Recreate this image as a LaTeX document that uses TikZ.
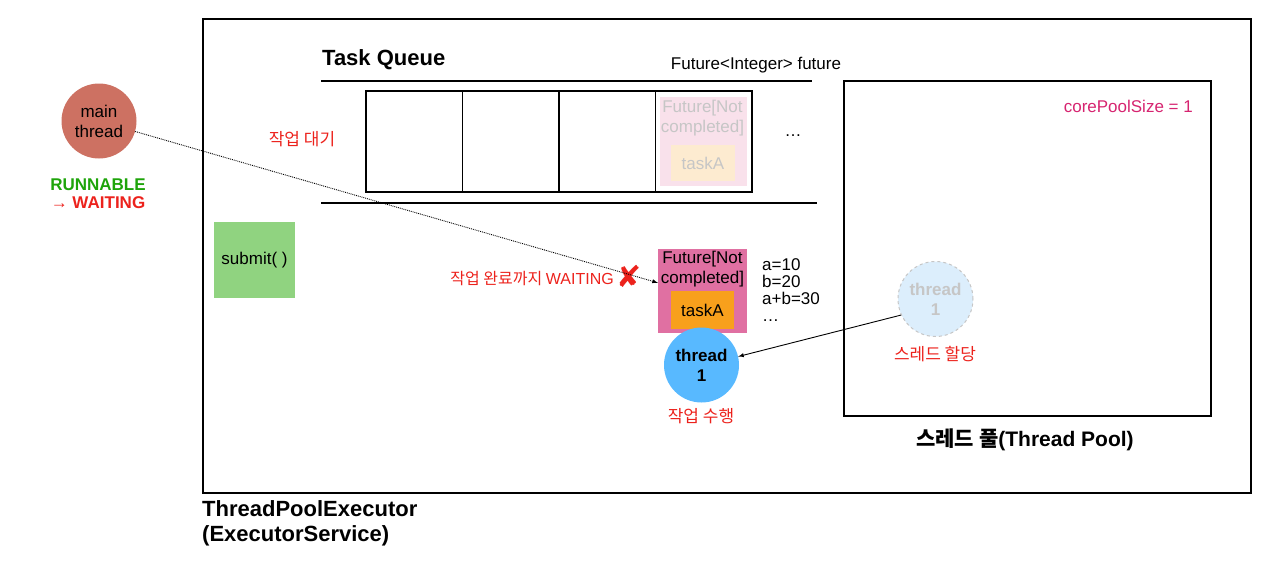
\documentclass[tikz,border=0pt]{standalone}
\usepackage{fontspec}
\usetikzlibrary{calc}
\setmainfont{Liberation Sans}
\newfontfamily\krfont{Noto Sans CJK KR}
\newfontfamily\symfont{DejaVu Sans}
\definecolor{warnRed}{RGB}{236,34,28}
\definecolor{runGreen}{RGB}{30,164,10}
\definecolor{poolMagenta}{RGB}{214,36,112}
\definecolor{mainSalmon}{RGB}{205,113,98}
\definecolor{submitGreen}{RGB}{144,211,128}
\definecolor{futurePink}{RGB}{224,112,162}
\definecolor{ghostPink}{RGB}{249,225,235}
\definecolor{taskOrange}{RGB}{248,160,28}
\definecolor{ghostOrange}{RGB}{253,235,208}
\definecolor{threadBlue}{RGB}{88,185,255}
\definecolor{ghostBlue}{RGB}{220,238,252}
\definecolor{ghostGray}{RGB}{198,198,198}

\begin{document}
\begin{tikzpicture}[
    x=1pt, y=-1pt,
    every node/.style={font=\fontsize{17}{20}\selectfont, inner sep=0pt},
    title label/.style={font=\fontsize{22}{25}\selectfont\bfseries},
    kr label/.style={font=\fontsize{17}{20}\selectfont\krfont, text=warnRed},
    frame box/.style={draw, line width=1.6pt, anchor=north west},
    queue cell/.style={draw, line width=1.7pt, minimum width=96.5pt, minimum height=101pt},
    queue rule/.style={line width=1.5pt},
    thread/.style={circle, minimum size=75pt, align=center, font=\fontsize{17}{20}\selectfont\bfseries},
    ghost/.style={text=ghostGray}
]
    \useasboundingbox (0,0) rectangle (1267,562);

    % executor and pool frames
    \node[frame box, minimum width=1048pt, minimum height=474pt] (executor) at (202,18) {};
    \node[title label, anchor=north west, align=left] (executor_label) at (202,500) {ThreadPoolExecutor\\(ExecutorService)};

    \node[frame box, minimum width=367pt, minimum height=335pt] (pool) at (843,80) {};
    \node[title label, font=\fontsize{21}{24}\selectfont\bfseries] (pool_label) at (1025,440) {{\krfont 스레드 풀}(Thread Pool)};
    \node[text=poolMagenta, anchor=east] (core_size) at (1193,106) {corePoolSize = 1};

    % main thread
    \node[thread, fill=mainSalmon, font=\fontsize{17}{20}\selectfont] (main) at (99,121) {main\\thread};
    \node[font=\fontsize{17}{20}\selectfont\bfseries, text=runGreen] (runnable) at (98,185) {RUNNABLE};
    \node[font=\fontsize{17}{20}\selectfont\bfseries, text=warnRed] (waiting) at (98,203) {→ WAITING};

    \node[fill=submitGreen, minimum width=81pt, minimum height=76pt] (submit) at (254.5,260) {submit( )};

    % task queue
    \node[title label, anchor=west] (queue_label) at (322,60) {Task Queue};
    \node (future_decl) at (756,65) {Future<Integer> future};
    \draw[queue rule] (321,81) -- (812,81);
    \draw[queue rule] (321,203) -- (817,203);
    \foreach \i in {0,...,3}
        \node[queue cell] (cell\i) at (414.25+96.5*\i,141.5) {};
    \node[fill=ghostPink, minimum width=87pt, minimum height=89pt] (ghost_future) at (cell3) {};
    \node[ghost, align=center, anchor=north] (ghost_future_text) at (702.5,100) {Future[Not\\completed]};
    \node[ghost, fill=ghostOrange, minimum width=64pt, minimum height=36pt] (ghost_task) at (703,163) {taskA};
    \node (queue_more) at (793,136) {…};
    \node[kr label] (wait_label) at (302,139) {작업 대기};

    % running task
    \node[fill=futurePink, minimum width=89pt, minimum height=84pt, anchor=north] (future) at (702.5,249) {};
    \node[align=center] (future_text) at (702.5,269) {Future[Not\\completed]};
    \node[fill=taskOrange, minimum width=63pt, minimum height=38pt] (task) at (702.5,310) {taskA};
    \node[thread, fill=threadBlue] (thread1) at (701.5,365) {thread\\1};
    \node[kr label] (run_label) at (701,416) {작업 수행};
    \node[anchor=north west, align=left, font=\fontsize{17}{17}\selectfont] (vars) at (762,258) {a=10\\b=20\\a+b=30\\…};

    \node[kr label, font=\fontsize{16}{20}\selectfont\krfont, anchor=east] (until_label) at (614,279) {작업 완료까지 {\rmfamily WAITING}};
    \node[text=warnRed, font=\symfont\fontsize{30}{30}\selectfont] (cross) at (629,276) {✘};

    % pool thread
    \node[thread, fill=ghostBlue, draw=ghostGray, dashed, line width=1pt, ghost] (ghost_thread) at (935.5,299) {thread\\1};
    \node[kr label] (assign_label) at (935,354) {스레드 할당};

    \coordinate (future_in) at ($ (future.north west)!.4!(future.south west) $);
    \draw[-latex, densely dotted, line width=0.9pt] (main) -- (future_in);
    \draw[-latex, line width=0.9pt] (ghost_thread.205) -- (thread1.13);
\end{tikzpicture}
\end{document}
